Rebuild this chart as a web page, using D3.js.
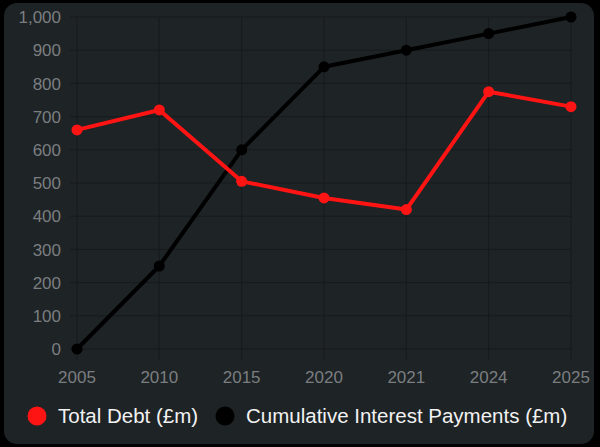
<!DOCTYPE html>
<html>
<head>
<meta charset="utf-8">
<script src="https://cdn.jsdelivr.net/npm/d3@7"></script>
<style>
  html, body { margin: 0; padding: 0; background: #000; }
  svg { display: block; font-family: "Helvetica Neue", "Liberation Sans", Arial, sans-serif; }
</style>
</head>
<body>
<svg id="chart" width="600" height="447"></svg>
<script>
// data
var years = ["2005", "2010", "2015", "2020", "2021", "2024", "2025"];
var totalDebt = [660, 720, 505, 455, 420, 775, 730];
var interestPaid = [0, 250, 600, 850, 900, 950, 1000];
var yTicks = [0, 100, 200, 300, 400, 500, 600, 700, 800, 900, 1000];
var seriesNames = ["Total Debt (£m)", "Cumulative Interest Payments (£m)"];
var seriesColors = ["#ff1414", "#000000"];

var svg = d3.select("#chart");
var W = 600, H = 447;

// panel
svg.append("rect").attr("x", 4).attr("y", 3).attr("width", 590).attr("height", 441)
  .attr("rx", 13).attr("fill", "#1e2326");

var x = d3.scalePoint().domain(years).range([77, 571]);
var y = d3.scaleLinear().domain([0, 1000]).range([349, 17]);

// grid
var grid = svg.append("g");
grid.selectAll("line.h").data(yTicks).enter().append("line")
  .attr("x1", 70).attr("x2", 571)
  .attr("y1", function(d){ return y(d); }).attr("y2", function(d){ return y(d); })
  .attr("stroke", "#171b1d").attr("stroke-width", 1);
grid.selectAll("line.v").data(years).enter().append("line")
  .attr("x1", function(d){ return x(d); }).attr("x2", function(d){ return x(d); })
  .attr("y1", 17).attr("y2", 360)
  .attr("stroke", "#171b1d").attr("stroke-width", 1);

// axes labels
var fmt = d3.format(",");
svg.append("g").selectAll("text").data(yTicks).enter().append("text")
  .attr("x", 61).attr("y", function(d){ return y(d); })
  .attr("dy", "0.36em").attr("text-anchor", "end")
  .attr("font-size", 17).attr("fill", "#7b7e80")
  .text(function(d){ return fmt(d); });

svg.append("g").selectAll("text").data(years).enter().append("text")
  .attr("x", function(d){ return x(d); }).attr("y", 377)
  .attr("dy", "0.36em").attr("text-anchor", "middle")
  .attr("font-size", 17).attr("fill", "#7b7e80")
  .text(function(d){ return d; });

// lines
var series = [totalDebt, interestPaid];
var line = d3.line()
  .x(function(d, i){ return x(years[i]); })
  .y(function(d){ return y(d); });

// black first so red sits on top at the crossing
[1, 0].forEach(function(s){
  var g = svg.append("g");
  g.append("path").datum(series[s])
    .attr("d", line).attr("fill", "none")
    .attr("stroke", seriesColors[s]).attr("stroke-width", 4)
    .attr("stroke-linejoin", "round");
  g.selectAll("circle").data(series[s]).enter().append("circle")
    .attr("cx", function(d, i){ return x(years[i]); })
    .attr("cy", function(d){ return y(d); })
    .attr("r", 5.5).attr("fill", seriesColors[s]);
});

// legend
var legend = svg.append("g");
var lx = [37, 225];
seriesNames.forEach(function(name, i){
  legend.append("circle").attr("cx", lx[i]).attr("cy", 416).attr("r", 9.5)
    .attr("fill", seriesColors[i]);
  legend.append("text").attr("x", lx[i] + 21).attr("y", 416).attr("dy", "0.36em")
    .attr("font-size", 20.5).attr("fill", "#f2f2f2").text(name);
});
</script>
</body>
</html>
